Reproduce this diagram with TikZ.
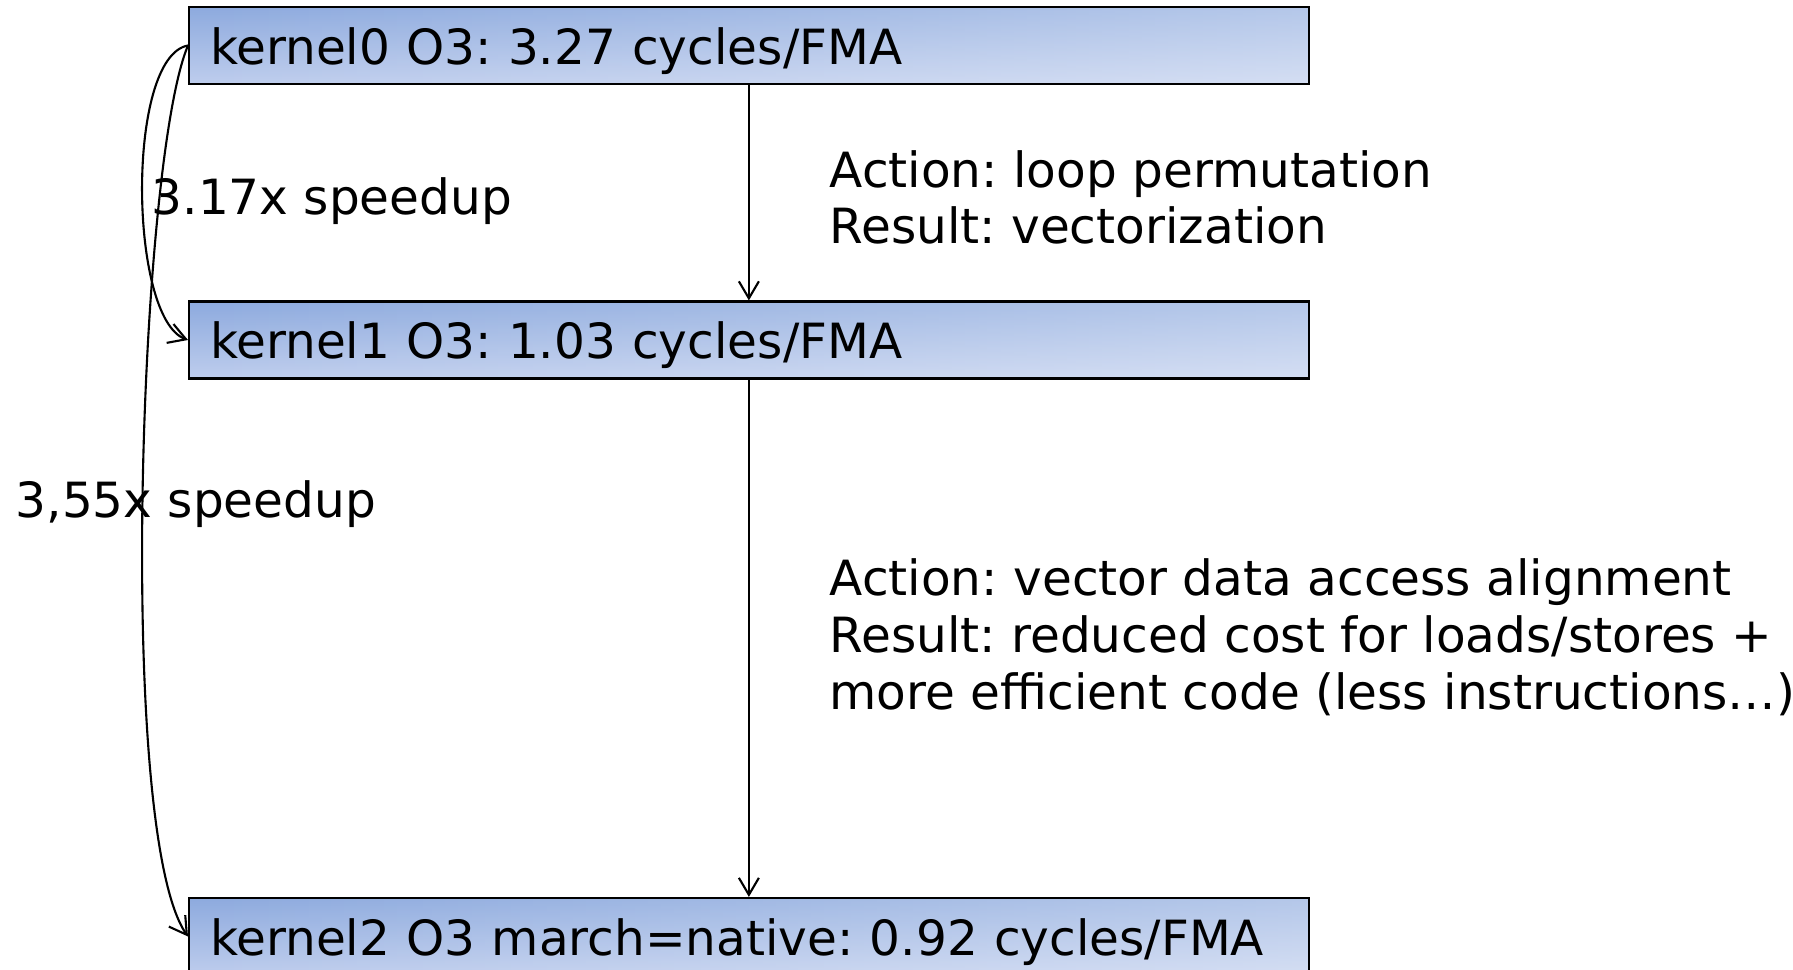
\documentclass[tikz,border=0pt]{standalone}
\usepackage{fontspec}
\setmainfont{DejaVu Sans}
\usetikzlibrary{arrows.meta,fadings}
\definecolor{boxtop}{RGB}{141,170,222}
\definecolor{boxbot}{RGB}{190,205,237}
\frenchspacing
\begin{document}
\begin{tikzpicture}[x=0.01cm,y=-0.01cm,
  font=\fontsize{13.8pt}{16.2pt}\selectfont,
  kbox/.style={draw,line width=0.6pt,top color=boxtop,bottom color=boxbot,
    minimum height=0.77cm,text width=10.77cm,
    inner xsep=0.21cm,inner ysep=0pt,text height=0.37cm,text depth=0pt,
    align=left,anchor=west,
    path picture={\fill[white,path fading=west,fill opacity=0.35]
      (path picture bounding box.south west) rectangle
      (path picture bounding box.north east);}},
  note/.style={anchor=base west,align=left,inner sep=0pt},
  tip/.style={line width=0.6pt,-{Straight Barb[length=1.7mm,width=2mm]}}]
  \useasboundingbox (0,0) rectangle (1793,970);
  % kernels
  \node[kbox] (k0) at (188,45.5) {kernel0 O3: 3.27 cycles/FMA};
  \node[kbox] (k1) at (188,340) {kernel1 O3: 1.03 cycles/FMA};
  \node[kbox] (k2) at (188,936.5) {kernel2 O3 march=native: 0.92 cycles/FMA};
  % actions (base = last line)
  \node[note] (a0) at (829,244) {Action: loop permutation\\Result: vectorization};
  \node[note] (a1) at (829,709) {Action: vector data access alignment\\
    Result: reduced cost for loads/stores +\\
    more efficient code (less instructions…)};
  % speedups
  \node[note] (s0) at (151,215) {3.17x speedup};
  \node[note] (s1) at (15,517) {3,55x speedup};
  \draw[tip] (k0) -- (k1);
  \draw[tip] (k1) -- (k2);
  \draw[tip] (k0.west) to[out=190,in=160,looseness=0.55] (k1.west);
  \draw[tip] (k0.west) to[out=247,in=125,looseness=0.36] (k2.west);
\end{tikzpicture}
\end{document}
